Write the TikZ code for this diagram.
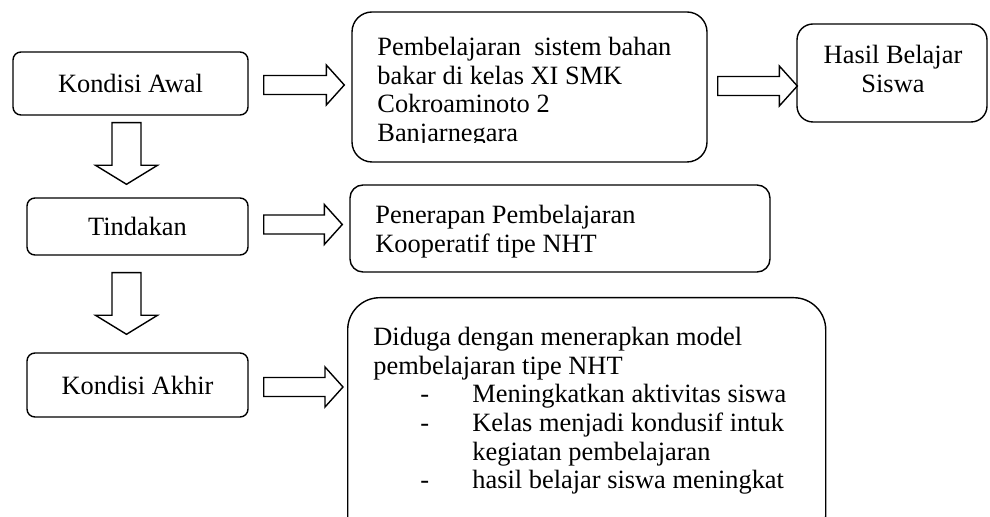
\documentclass[tikz,border=0pt]{standalone}
\usepackage{fontspec}
\setmainfont{Liberation Serif}
\usetikzlibrary{calc}
\tikzset{   box/.style = {rectangle, draw = black, line width = 0.7pt, fill = white, rounded corners = 4pt, font = \fontsize{13.2}{14.3}\selectfont},
            txt/.style = {inner sep = 0pt, align = left, anchor = north west, font = \fontsize{13.2}{14.3}\selectfont},
            rfat/.style = {draw = black, line width = 0.7pt, to path = {
                ($(\tikztostart)+(0,-9.5)$) -- ($(\tikztotarget)+(-18,-9.5)$) -- ($(\tikztotarget)+(-18,-20)$) -- (\tikztotarget)
                -- ($(\tikztotarget)+(-18,20)$) -- ($(\tikztotarget)+(-18,9.5)$) -- ($(\tikztostart)+(0,9.5)$) -- cycle}},
            dfat/.style = {draw = black, line width = 0.7pt, to path = {
                ($(\tikztostart)+(-14.5,0)$) -- ($(\tikztotarget)+(-14.5,-19)$) -- ($(\tikztotarget)+(-31,-19)$) -- (\tikztotarget)
                -- ($(\tikztotarget)+(31,-19)$) -- ($(\tikztotarget)+(14.5,-19)$) -- ($(\tikztostart)+(14.5,0)$) -- cycle}}}
\newcommand{\itm}[1]{\makebox[49.5pt][l]{\hspace*{23.5pt}-}#1}
\newcommand{\cont}[1]{\hspace*{49.5pt}#1}

\begin{document}
\begin{tikzpicture}[x=0.5pt, y=-0.5pt]
                        \clip (0,0) rectangle (990,517);
                        \node[box, minimum width=117.5pt, minimum height=31.5pt] (awal) at (130.5,83.5) {Kondisi Awal};
                        \node[box, minimum width=110.5pt, minimum height=28.5pt] (tind) at (137.5,226.5) {Tindakan};
                        \node[box, minimum width=110.5pt, minimum height=32pt] (akhir) at (137.5,385) {Kondisi Akhir};
                        \node[box, rounded corners=10pt, minimum width=177.5pt, minimum height=75pt] (belajar) at (529.5,87) {};
                        \node[box, rounded corners=8pt, minimum width=95pt, minimum height=49pt] (hasil) at (892,73) {};
                        \node[box, rounded corners=6.5pt, minimum width=210pt, minimum height=43.5pt] (terap) at (560,228.5) {};
                        \node[box, rounded corners=16pt, minimum width=239pt, minimum height=125pt, anchor=north west] (duga) at (347,297) {};
                        \begin{scope}
                        \clip (352,12) rectangle (707,143);
                        \node[txt] (belajartxt) at (377,37) {Pembelajaran\ \ sistem bahan\\bakar di kelas XI SMK\\Cokroaminoto 2\\Banjarnegara};
                        \end{scope}
                        \node[txt, anchor=north, align=center] (hasiltxt) at (893,45) {Hasil Belajar\\Siswa};
                        \node[txt] (teraptxt) at (375,205) {Penerapan Pembelajaran\\Kooperatif tipe NHT};
                        \node[txt] (dugatxt) at (373,327) {Diduga dengan menerapkan model\\pembelajaran tipe NHT\\\itm{Meningkatkan aktivitas siswa}\\\itm{Kelas menjadi kondusif intuk}\\\cont{kegiatan pembelajaran}\\\itm{hasil belajar siswa meningkat}};
                        \draw[rfat] ($(awal.east)+(15,1.5)$) to ($(belajar.west |- awal.east)+(-7,1.5)$);
                        \draw[rfat] ($(belajar.east)+(10,-1)$) to ($(hasil.west |- belajar.east)+(1,-1)$);
                        \draw[rfat] ($(tind.east)+(15,-2)$) to ($(terap.west |- tind.east)+(-7,-2)$);
                        \draw[rfat] ($(akhir.east)+(15,2)$) to ($(duga.west |- akhir.east)+(-4,2)$);
                        \draw[dfat] ($(awal.south)+(-4,7)$) to ($(tind.north)+(-11,-13)$);
                        \draw[dfat] ($(tind.south)+(-11,17)$) to ($(akhir.north)+(-11,-18)$);
                      \end{tikzpicture}
\end{document}
